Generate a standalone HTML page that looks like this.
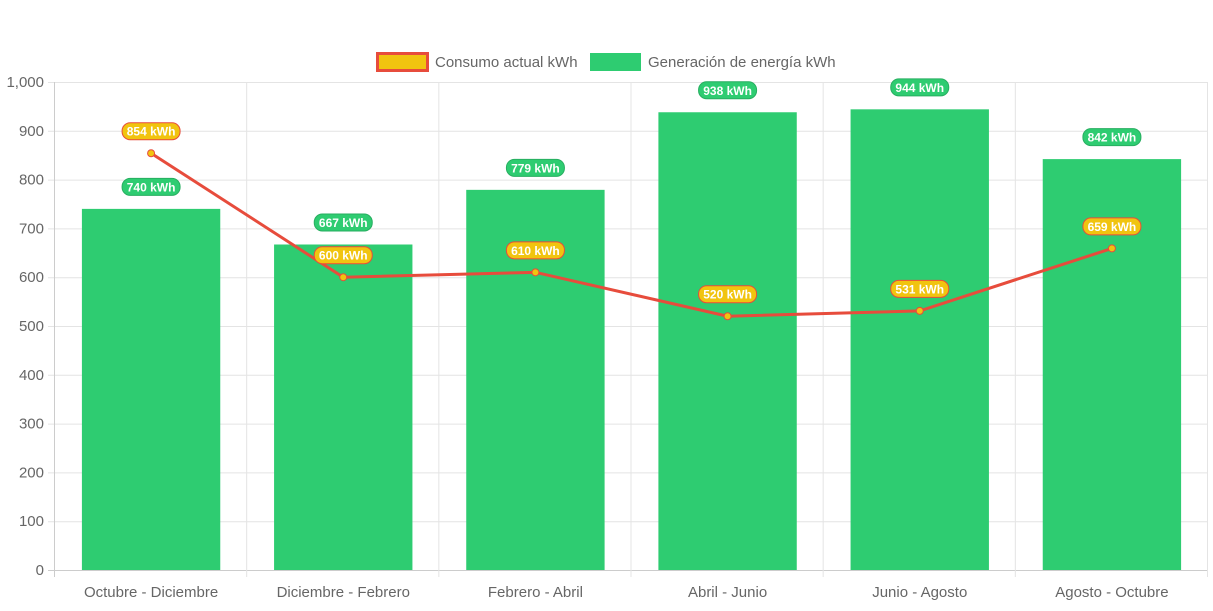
<!DOCTYPE html>
<html><head><meta charset="utf-8"><style>
body{margin:0;background:#fff;width:1213px;height:606px;overflow:hidden;font-family:"Liberation Sans",sans-serif}
</style></head><body>
<svg id="chart" width="1213" height="606" xmlns="http://www.w3.org/2000/svg" font-family="Liberation Sans, sans-serif">
<g>
<rect x="377.5" y="53.5" width="50" height="17" fill="#f1c40f" stroke="#e74c3c" stroke-width="3"/>
<text x="435" y="67" font-size="15" fill="#666">Consumo actual kWh</text>
<rect x="590" y="53" width="51" height="18" fill="#2ecc71"/>
<text x="648" y="67" font-size="15" fill="#666">Generación de energía kWh</text>
</g>
<g id="grid"></g><g id="bars"></g><g id="line"></g><g id="labels"></g>
</svg>
<script>
const categories=["Octubre - Diciembre","Diciembre - Febrero","Febrero - Abril","Abril - Junio","Junio - Agosto","Agosto - Octubre"];
const generacion=[740,667,779,938,944,842];
const consumo=[854,600,610,520,531,659];
const yTicks=[0,100,200,300,400,500,600,700,800,900,1000];
const yTickLabels=["0","100","200","300","400","500","600","700","800","900","1,000"];
const NS="http://www.w3.org/2000/svg";
const L=54,R=1207,T=82,B=570,YMAX=1000;
const bw=(R-L)/categories.length;
function y(v){return B-(v/YMAX)*(B-T);}
function xc(i){return L+1+bw*(i+0.5);}
function mk(tag,attrs,parent){const e=document.createElementNS(NS,tag);for(const k in attrs)e.setAttribute(k,attrs[k]);document.getElementById(parent).appendChild(e);return e;}
yTicks.forEach((t,i)=>{
 const g=mk('line',{x1:L-6,x2:R,y1:y(t)+0.5,y2:y(t)+0.5,stroke:i===0?'#ccc':'#e4e4e4'},'grid');
 
 
 const tx=mk('text',{x:L-10,y:y(t)+5,'text-anchor':'end','font-size':15,fill:'#666'},'grid');
 tx.textContent=yTickLabels[i];
 
 
});
for(let i=0;i<=categories.length;i++){
 const x=L+bw*i+0.5;
 const g=mk('line',{x1:x,x2:x,y1:T,y2:B+7,stroke:i===0?'#ccc':'#e4e4e4'},'grid');
 
 
}
categories.forEach((c,i)=>{
 const tx=mk('text',{x:xc(i),y:597,'text-anchor':'middle','font-size':15,fill:'#666'},'grid');
 tx.textContent=c;
 
 
 const w=bw*0.72;
 const b=mk('rect',{x:xc(i)-w/2,y:y(generacion[i]),width:w,height:B-y(generacion[i]),fill:'#2ecc71'},'bars');
 
 
});
const pts=consumo.map((v,i)=>xc(i)+','+y(v)).join(' ');
const pl=mk('polyline',{points:pts,fill:'none',stroke:'#e74c3c','stroke-width':3},'line');


consumo.forEach((v,i)=>{
 const c=mk('circle',{cx:xc(i),cy:y(v),r:3.5,fill:'#f1c40f',stroke:'#e74c3c','stroke-width':1},'line');
 
 
});
function pill(x,cy,txt,fill,stroke,name){
 const r=mk('rect',{x:x-29,y:cy-8.5,width:58,height:17,rx:8,fill:fill,stroke:stroke,'stroke-width':1},'labels');
 
 
 const t=mk('text',{x:x,y:cy+4.5,'text-anchor':'middle','font-size':12,'font-weight':'bold',fill:'#fff'},'labels');
 t.textContent=txt;
 
 
}
generacion.forEach((v,i)=>pill(xc(i),y(v)-22,v+' kWh','#2ecc71','#27ae60','generacion-value-label'));
consumo.forEach((v,i)=>pill(xc(i),y(v)-22,v+' kWh','#f1c40f','#e74c3c','consumo-value-label'));
</script>
</body></html>
